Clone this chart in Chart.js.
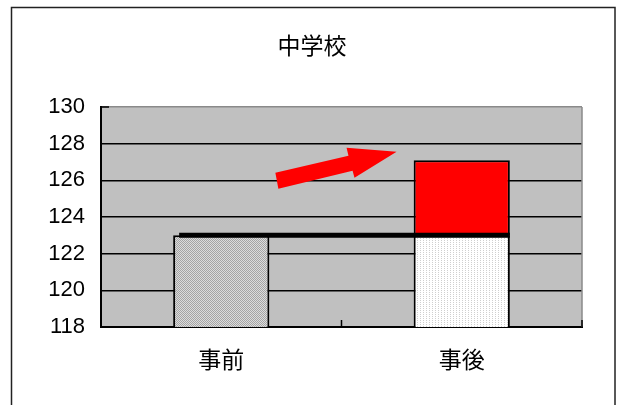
<!DOCTYPE html>
<html lang="ja">
<head>
<meta charset="UTF-8">
<title>中学校</title>
<script src="https://cdn.jsdelivr.net/npm/chart.js"></script>
<style>
  html, body { margin: 0; padding: 0; background: #fff; }
  #wrap { width: 617px; height: 405px; }
</style>
</head>
<body>
<div id="wrap"><canvas id="chart" width="617" height="405"></canvas></div>

<script>
// ---- data ----
const title = '中学校';
const categories = ['事前', '事後'];
const baseValues = [123, 123];     // 下の棒
const gainValues = [0, 4.1];       // 赤い増加分
const yTicks = [118, 120, 122, 124, 126, 128, 130];

// 赤い矢印 (x: カテゴリ位置, y: 値)
const arrowX = [0.225, 0.529, 0.521, 0.729, 0.554, 0.546, 0.2375];
const arrowY = [126.41, 127.34, 127.78, 127.56, 126.14, 126.52, 125.54];

// ---- 模様 ----
function makePattern(w, h, paint) {
  const c = document.createElement('canvas');
  c.width = w; c.height = h;
  paint(c.getContext('2d'));
  return c.getContext('2d').createPattern(c, 'repeat');
}
const ctx = document.getElementById('chart').getContext('2d');

// 事前: 灰色の細かい網
const grayPattern = makePattern(2, 2, g => {
  g.fillStyle = '#dcdcdc'; g.fillRect(0, 0, 2, 2);
  g.fillStyle = '#a4a4a4'; g.fillRect(0, 0, 1, 1); g.fillRect(1, 1, 1, 1);
});
// 事後: 白地に縦の点線
const whitePattern = makePattern(3, 2, g => {
  g.fillStyle = '#ffffff'; g.fillRect(0, 0, 3, 2);
  g.fillStyle = '#cfcfcf'; g.fillRect(0, 0, 1, 1);
});

// ---- 描画プラグイン ----
const decor = {
  id: 'decor',
  beforeDraw(chart) {
    const c = chart.ctx, a = chart.chartArea;
    c.save();
    c.fillStyle = '#fff';
    c.fillRect(0, 0, chart.width, chart.height);
    c.fillStyle = '#c0c0c0';
    c.fillRect(a.left, a.top, a.right - a.left, a.bottom - a.top);
    // 外枠
    c.strokeStyle = '#222';
    c.lineWidth = 1.5;
    c.strokeRect(11.5, 7.5, 603.5, 420);
    // タイトル (キャンバス全体の中央)
    c.fillStyle = '#000';
    c.font = '23px "Noto Sans CJK JP"';
    c.textAlign = 'center';
    c.textBaseline = 'middle';
    c.fillText(title, 312, 45);
    c.restore();
  },
  afterDatasetsDraw(chart) {
    const c = chart.ctx, a = chart.chartArea;
    const x = chart.scales.x, y = chart.scales.y;
    const bars = chart.getDatasetMeta(0).data;
    c.save();
    // 右側の枠 (灰色)
    c.strokeStyle = '#8a8a8a';
    c.lineWidth = 1.5;
    c.beginPath();
    c.moveTo(a.right, a.top);
    c.lineTo(a.right, a.bottom);
    c.stroke();
    // 目盛り (内向き)
    c.strokeStyle = '#000';
    c.lineWidth = 1.5;
    c.beginPath();
    c.moveTo(a.left, a.top); c.lineTo(a.left + 8, a.top);
    [a.left, (a.left + a.right) / 2, a.right].forEach(px => {
      c.moveTo(px, a.bottom); c.lineTo(px, a.bottom - 7);
    });
    c.stroke();
    // 事前の値の黒い線
    const ly = y.getPixelForValue(baseValues[0]);
    const x0 = bars[0].x - bars[0].width / 2 + 6;
    const x1 = bars[1].x + bars[1].width / 2;
    c.lineWidth = 5;
    c.beginPath();
    c.moveTo(x0, ly); c.lineTo(x1, ly);
    c.stroke();
    // 赤い矢印
    c.fillStyle = '#ff0000';
    c.beginPath();
    arrowX.forEach((v, i) => {
      const px = x.getPixelForValue(v), py = y.getPixelForValue(arrowY[i]);
      if (i === 0) c.moveTo(px, py); else c.lineTo(px, py);
    });
    c.closePath();
    c.fill();
    c.restore();
  }
};

// ---- チャート ----
const chart = new Chart(ctx, {
  type: 'bar',
  data: {
    labels: categories,
    datasets: [
      {
        data: baseValues,
        backgroundColor: [grayPattern, whitePattern],
        borderColor: '#000',
        borderWidth: 2,
        categoryPercentage: 1,
        barPercentage: 0.4
      },
      {
        data: gainValues,
        backgroundColor: '#ff0000',
        borderColor: '#000',
        borderWidth: 2,
        categoryPercentage: 1,
        barPercentage: 0.4
      }
    ]
  },
  options: {
    responsive: false,
    animation: false,
    layout: { padding: { left: 0, right: 35, top: 107, bottom: 0 } },
    plugins: {
      legend: { display: false },
      tooltip: { enabled: false },
      title: { display: false }
    },
    scales: {
      x: {
        stacked: true,
        grid: { display: false },
        border: { color: '#000', width: 2 },
        ticks: {
          color: '#000',
          padding: 10,
          font: { family: '"Noto Sans CJK JP"', size: 23 }
        },
        afterFit(s) { s.height = 78; }
      },
      y: {
        stacked: true,
        min: yTicks[0],
        max: yTicks[yTicks.length - 1],
        afterBuildTicks(s) { s.ticks = yTicks.map(v => ({ value: v })); },
        grid: {
          drawTicks: false,
          lineWidth: 1.5,
          color: c => (c.tick && c.tick.value === 130) ? '#8a8a8a' : '#000'
        },
        border: { color: '#000', width: 2 },
        ticks: {
          color: '#000',
          padding: 16,
          font: { family: '"Liberation Sans"', size: 22 }
        },
        afterFit(s) { s.width = 101; }
      }
    }
  },
  plugins: [decor]
});
</script>
</body>
</html>
